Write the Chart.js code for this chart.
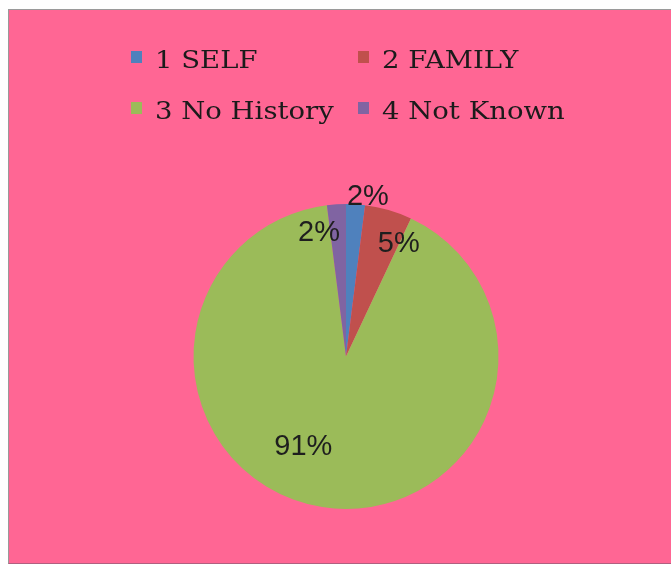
<!DOCTYPE html>
<html>
<head>
<meta charset="utf-8">
<script src="https://cdn.jsdelivr.net/npm/chart.js@4.4.1/dist/chart.umd.min.js"></script>
<style>
  html, body { margin: 0; padding: 0; background: #ffffff; }
  body { width: 671px; height: 567px; position: relative; overflow: hidden; }
  #frame {
    position: absolute; left: 8px; top: 9px; width: 663px; height: 555px;
    background: #FF6694;
    border-left: 1px solid #9a9a9a; border-top: 1px solid #9a9a9a; border-bottom: 1px solid #b06080;
    box-sizing: border-box;
  }
  #wrap { position: absolute; left: 1px; top: 1px; width: 662px; height: 553px; }
</style>
</head>
<body>
<div id="frame"><div id="wrap"><canvas id="chart"></canvas></div></div>
<script>
// Family history of the condition, share of respondents
const categories = ['1 SELF', '2 FAMILY', '3 No History', '4 Not Known'];
const percentages = [2, 5, 91, 2];
const sliceColors = ['#4F81BD', '#C0504D', '#9BBB59', '#8064A2'];

// Where each percentage label sits: turn (degrees) from the slice middle, and distance as a share of the radius
const labelPlacement = [
  { turn: 4.2, dist: 1.055 },
  { turn: 8.9, dist: 0.815 },
  { turn: 16.3, dist: 0.655 },
  { turn: -8.7, dist: 0.83 }
];

// Legend laid out as a two-column grid above the pie (canvas coordinates)
const gridLegend = {
  id: 'gridLegend',
  afterDraw(chart) {
    const ctx = chart.ctx;
    const ds = chart.data.datasets[0];
    const colX = [121, 348];
    const baseY = [57, 108];
    ctx.save();
    ctx.font = '25px "DejaVu Serif", "Liberation Serif", serif';
    ctx.textBaseline = 'alphabetic';
    chart.data.labels.forEach((label, i) => {
      const x = colX[i % 2];
      const y = baseY[Math.floor(i / 2)];
      ctx.fillStyle = ds.backgroundColor[i];
      ctx.fillRect(x, y - 17, 11, 12);
      ctx.fillStyle = '#1b1b1b';
      ctx.save();
      ctx.translate(x + 24, y);
      ctx.scale(1.1, 1);
      ctx.fillText(label, 0, 0);
      ctx.restore();
    });
    ctx.restore();
  }
};

// Percentage labels on the slices
const sliceLabels = {
  id: 'sliceLabels',
  afterDatasetsDraw(chart) {
    const ctx = chart.ctx;
    const meta = chart.getDatasetMeta(0);
    ctx.save();
    ctx.font = '29px "Liberation Sans", Arial, sans-serif';
    ctx.textAlign = 'center';
    ctx.textBaseline = 'middle';
    ctx.fillStyle = '#1e1e1e';
    meta.data.forEach((arc, i) => {
      const p = arc.getProps(['x', 'y', 'startAngle', 'endAngle', 'outerRadius'], true);
      const place = labelPlacement[i];
      const a = (p.startAngle + p.endAngle) / 2 + place.turn * Math.PI / 180;
      const r = p.outerRadius * place.dist;
      const value = chart.data.datasets[0].data[i];
      ctx.fillText(value + '%', p.x + Math.cos(a) * r, p.y + Math.sin(a) * r);
    });
    ctx.restore();
  }
};

new Chart(document.getElementById('chart'), {
  type: 'pie',
  data: {
    labels: categories,
    datasets: [{
      data: percentages,
      backgroundColor: sliceColors,
      borderWidth: 0,
      hoverOffset: 0
    }]
  },
  options: {
    responsive: true,
    maintainAspectRatio: false,
    animation: false,
    layout: { padding: { top: 193, bottom: 55, left: 10, right: 0 } },
    plugins: {
      legend: { display: false },
      tooltip: { enabled: false }
    }
  },
  plugins: [gridLegend, sliceLabels]
});
</script>
</body>
</html>
